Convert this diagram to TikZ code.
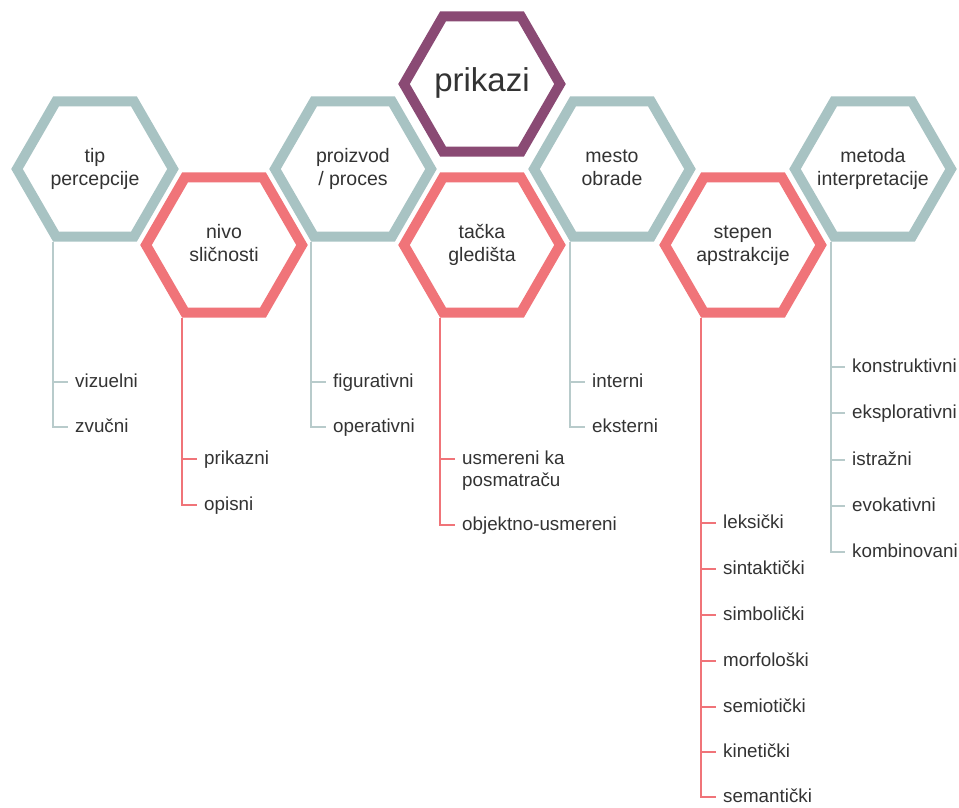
\documentclass[tikz,border=0pt]{standalone}
\usepackage{fontspec}
\setmainfont{Liberation Sans}
\usetikzlibrary{shapes.geometric,backgrounds}
\definecolor{hexgray}{HTML}{A8C3C3}
\definecolor{hexred}{HTML}{F07479}
\definecolor{hexpurple}{HTML}{8A4A74}
\definecolor{linegray}{HTML}{B8CBCB}
\definecolor{inkgray}{HTML}{333333}
% centred cell caption that does not widen the hexagon
\newcommand\hexlabel[1]{\makebox[0pt]{\begin{tabular}{@{}c@{}}#1\end{tabular}}}
\begin{document}
\begin{tikzpicture}[x=1pt,y=-1pt,
  hexbox/.style={regular polygon, regular polygon sides=6, minimum size=156pt,
    inner sep=0pt, line width=10pt, fill=white, text=inkgray,
    font=\fontsize{19.5}{23}\selectfont},
  hexg/.style={hexbox, draw=hexgray},
  hexr/.style={hexbox, draw=hexred},
  hexp/.style={hexbox, draw=hexpurple, font=\fontsize{33}{38}\selectfont},
  leaf/.style={anchor=west, inner sep=0pt, text height=10pt, text depth=0pt,
    text=inkgray, font=\fontsize{18.8}{22}\selectfont},
  branchg/.style={draw=linegray, line width=1.4pt},
  branchr/.style={draw=hexred, line width=1.8pt},
]
\useasboundingbox (0,0) rectangle (959,807);

% hexagon cells
\node[hexp] (prikazi) at (482,84) {\hexlabel{prikazi}};
\node[hexg] (tip)   at (95,169)  {\hexlabel{tip\\percepcije}};
\node[hexr] (nivo)  at (224,245) {\hexlabel{nivo\\sličnosti}};
\node[hexg] (proiz) at (353,169) {\hexlabel{proizvod\\/ proces}};
\node[hexr] (tacka) at (482,245) {\hexlabel{tačka\\gledišta}};
\node[hexg] (mesto) at (612,169) {\hexlabel{mesto\\obrade}};
\node[hexr] (stepen) at (743,245) {\hexlabel{stepen\\apstrakcije}};
\node[hexg] (metoda) at (873,169) {\hexlabel{metoda\\interpretacije}};

% roots of the branch lines
\coordinate (tipR)    at ([xshift=-42pt]tip.south);
\coordinate (nivoR)   at ([xshift=-42pt]nivo.south);
\coordinate (proizR)  at ([xshift=-42pt]proiz.south);
\coordinate (tackaR)  at ([xshift=-42pt]tacka.south);
\coordinate (mestoR)  at ([xshift=-42pt]mesto.south);
\coordinate (stepenR) at ([xshift=-42pt]stepen.south);
\coordinate (metodaR) at ([xshift=-42pt]metoda.south);

% leaves
\node[leaf] (viz) at (75,382) {vizuelni};
\node[leaf] (zvu) at (75,427) {zvučni};

\node[leaf] (prk) at (204,459) {prikazni};
\node[leaf] (opi) at (204,505) {opisni};

\node[leaf] (fig) at (333,382) {figurativni};
\node[leaf] (ope) at (333,427) {operativni};

\node[leaf] (usm) at (462,459) {\begin{tabular}[t]{@{}l@{}}usmereni ka\\posmatraču\end{tabular}};
\node[leaf] (obj) at (462,525) {objektno-usmereni};

\node[leaf] (int) at (592,382) {interni};
\node[leaf] (eks) at (592,427) {eksterni};

\node[leaf] (lek) at (723,523) {leksički};
\node[leaf] (sin) at (723,569) {sintaktički};
\node[leaf] (sim) at (723,615) {simbolički};
\node[leaf] (mor) at (723,661) {morfološki};
\node[leaf] (sem) at (723,707) {semiotički};
\node[leaf] (kin) at (723,752) {kinetički};
\node[leaf] (san) at (723,797) {semantički};

\node[leaf] (kon) at (852,367) {konstruktivni};
\node[leaf] (eksp) at (852,413) {eksplorativni};
\node[leaf] (ist) at (852,460) {istražni};
\node[leaf] (evo) at (852,506) {evokativni};
\node[leaf] (kom) at (852,552) {kombinovani};

% branch lines, behind the cells
\begin{scope}[on background layer]
  \draw[branchg] (tipR) |- ([xshift=-7pt]zvu.west);
  \draw[branchg] (tipR |- viz.west) -- ([xshift=-7pt]viz.west);

  \draw[branchr] (nivoR) |- ([xshift=-7pt]opi.west);
  \draw[branchr] (nivoR |- prk.west) -- ([xshift=-7pt]prk.west);

  \draw[branchg] (proizR) |- ([xshift=-7pt]ope.west);
  \draw[branchg] (proizR |- fig.west) -- ([xshift=-7pt]fig.west);

  \draw[branchr] (tackaR) |- ([xshift=-7pt]obj.west);
  \draw[branchr] (tackaR |- usm.west) -- ([xshift=-7pt]usm.west);

  \draw[branchg] (mestoR) |- ([xshift=-7pt]eks.west);
  \draw[branchg] (mestoR |- int.west) -- ([xshift=-7pt]int.west);

  \draw[branchr] (stepenR) |- ([xshift=-7pt]san.west);
  \foreach \n in {lek,sin,sim,mor,sem,kin}
    \draw[branchr] (stepenR |- \n.west) -- ([xshift=-7pt]\n.west);

  \draw[branchg] (metodaR) |- ([xshift=-7pt]kom.west);
  \foreach \n in {kon,eksp,ist,evo}
    \draw[branchg] (metodaR |- \n.west) -- ([xshift=-7pt]\n.west);
\end{scope}
\end{tikzpicture}
\end{document}
